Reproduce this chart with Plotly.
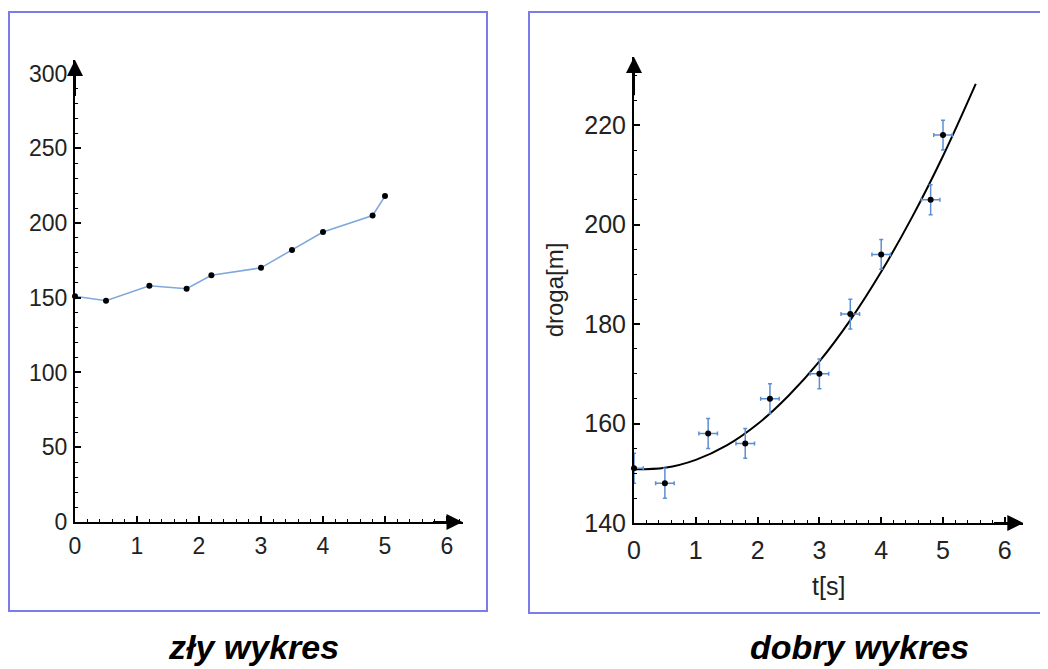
import plotly.graph_objects as go

# ---- data ----
t_values = [0.0, 0.5, 1.2, 1.8, 2.2, 3.0, 3.5, 4.0, 4.8, 5.0]
droga_values = [151, 148, 158, 156, 165, 170, 182, 194, 205, 218]
t_err = [0.15] * 10
droga_err = [3] * 10

# fitted curve
fit_t = [0.0, 0.5, 1.0, 1.5, 2.0, 2.5, 3.0, 3.5, 4.0, 4.5, 5.0, 5.53]
fit_droga = [150.8, 151.1, 152.7, 155.6, 159.9, 165.6, 172.5, 180.8, 190.5, 201.5, 213.8, 228.3]

left_x_range = [0, 6.25]
left_y_range = [0, 309]
right_x_range = [0, 6.3]
right_y_range = [140, 233.7]

title_left = "zły wykres"
title_right = "dobry wykres"
xlabel_right = "t[s]"
ylabel_right = "droga[m]"

# the page body has an 8px margin: the figure starts at (8, 8) in the window
OFF = 8
W, H = 1048 - OFF, 669 - OFF
FONT = "Liberation Sans, Arial, Helvetica, sans-serif"
TXT = "#222222"
BOX = "#7c7ce8"

fig = go.Figure()

# left: bad plot
fig.add_trace(go.Scatter(
    x=t_values, y=droga_values, mode="lines+markers",
    line=dict(color="#7fa8dc", width=1.6),
    marker=dict(color="black", size=6),
    xaxis="x", yaxis="y", cliponaxis=False, showlegend=False))

# right: good plot
fig.add_trace(go.Scatter(
    x=fit_t, y=fit_droga, mode="lines", line=dict(color="black", width=2, shape="spline"),
    xaxis="x2", yaxis="y2", showlegend=False))
fig.add_trace(go.Scatter(
    x=t_values, y=droga_values, mode="markers",
    marker=dict(color="black", size=6),
    error_x=dict(type="data", array=t_err, color="#5b8fd3", thickness=1.5, width=2),
    error_y=dict(type="data", array=droga_err, color="#5b8fd3", thickness=1.5, width=2),
    xaxis="x2", yaxis="y2", cliponaxis=False, showlegend=False))

def px_x(p):
    return (p - OFF) / W

def px_y(p):
    return 1 - (p - OFF) / H

axis_common = dict(showline=True, linecolor="black", linewidth=2, showgrid=False,
                   zeroline=False, ticks="inside", tickcolor="black", tickwidth=1.5,
                   ticklen=6, mirror=False, layer="above traces", automargin=False)

minor_style = dict(ticks="inside", ticklen=3, tickcolor="black", tickwidth=1.2)

fig.update_layout(
    width=W, height=H, margin=dict(l=0, r=0, t=0, b=0, autoexpand=False),
    paper_bgcolor="white", plot_bgcolor="white",
    xaxis=dict(domain=[px_x(75), px_x(75 + 6.25 * 62)], range=left_x_range, anchor="y",
               dtick=1, tick0=0, minor=dict(dtick=0.2, **minor_style),
               tickfont=dict(family=FONT, size=23, color=TXT), ticklabelstandoff=2, **axis_common),
    yaxis=dict(domain=[px_y(522), px_y(60)], range=left_y_range, anchor="x",
               dtick=50, tick0=0, minor=dict(dtick=10, **minor_style),
               tickfont=dict(family=FONT, size=23, color=TXT), ticklabelstandoff=1, **axis_common),
    xaxis2=dict(domain=[px_x(634), px_x(634 + 6.3 * 61.8)], range=right_x_range, anchor="y2",
                dtick=1, tick0=0, minor=dict(dtick=0.2, **minor_style),
                tickfont=dict(family=FONT, size=25, color=TXT), ticklabelstandoff=4,
                title=dict(text=xlabel_right, font=dict(family=FONT, size=25, color=TXT), standoff=14),
                **axis_common),
    yaxis2=dict(domain=[px_y(523), px_y(57)], range=right_y_range, anchor="x2",
                dtick=20, tick0=140, minor=dict(dtick=5, **minor_style),
                tickfont=dict(family=FONT, size=25, color=TXT), ticklabelstandoff=1,
                title=dict(text=ylabel_right, font=dict(family=FONT, size=24, color=TXT), standoff=14),
                **axis_common),
)

# boxes around panels
fig.add_shape(type="rect", xref="paper", yref="paper",
              x0=px_x(9), x1=px_x(487), y0=px_y(611), y1=px_y(12),
              line=dict(color=BOX, width=2), layer="below")
fig.add_shape(type="rect", xref="paper", yref="paper",
              x0=px_x(529), x1=px_x(1070), y0=px_y(613), y1=px_y(12),
              line=dict(color=BOX, width=2), layer="below")

# axis arrows
def arrow(xr, yr, x, y, ax, ay):
    fig.add_annotation(xref=xr, yref=yr, axref=xr, ayref=yr, x=x, y=y, ax=ax, ay=ay,
                       text="", showarrow=True, arrowhead=2, arrowsize=1.6, arrowwidth=2,
                       arrowcolor="black", standoff=0)

arrow("x", "y", left_x_range[1], left_y_range[0], left_x_range[1] - 0.5, left_y_range[0])
arrow("x", "y", left_x_range[0], left_y_range[1], left_x_range[0], left_y_range[1] - 25)
arrow("x2", "y2", right_x_range[1], right_y_range[0], right_x_range[1] - 0.5, right_y_range[0])
arrow("x2", "y2", right_x_range[0], right_y_range[1], right_x_range[0], right_y_range[1] - 8)

# panel captions
cap_font = dict(family=FONT, size=34, color="black", style="italic", weight="bold")
fig.add_annotation(xref="paper", yref="paper", x=px_x(253), y=px_y(647), text=title_left,
                   showarrow=False, xanchor="center", yanchor="middle", font=cap_font)
fig.add_annotation(xref="paper", yref="paper", x=px_x(859), y=px_y(647), text=title_right,
                   showarrow=False, xanchor="center", yanchor="middle", font=cap_font)

fig.write_html("out.html")
